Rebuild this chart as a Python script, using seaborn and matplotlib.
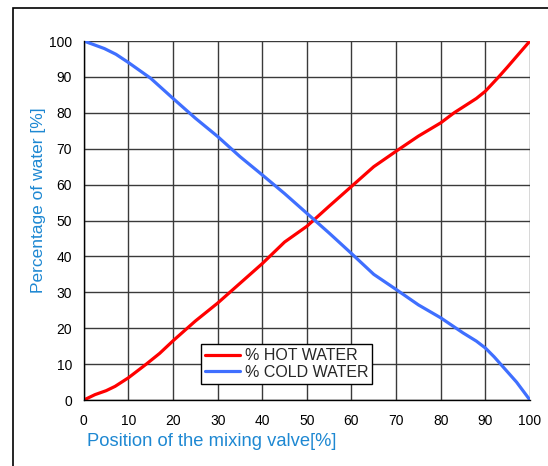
import matplotlib
matplotlib.use("Agg")
import matplotlib.pyplot as plt
import seaborn as sns
import pandas as pd
from matplotlib.patches import Rectangle

# valve position [%] and water share [%]
hot_pos = [0, 2.5, 5, 7, 10, 14, 17, 20, 25, 30, 35, 40, 45, 50, 55, 60,
           65, 70, 75, 80, 83, 88, 90, 93, 95, 100]
hot_pct = [0, 1.5, 2.6, 3.8, 6.2, 10, 13, 16.5, 22, 27, 32.5, 38, 44, 48.4,
           54, 59.5, 65, 69.3, 73.5, 77.2, 80, 84, 86, 90, 92.8, 100]

cold_pos = [0, 4.6, 7.2, 10, 15, 20, 25, 30, 35, 40, 45, 50, 55, 60, 65,
            70, 75, 80, 85, 88, 90, 92, 95, 97, 100]
cold_pct = [100, 97.9, 96.3, 94, 89.6, 84, 78.5, 73.4, 67.8, 62.7, 57.5, 52,
            46.5, 40.8, 35, 30.8, 26.5, 22.9, 18.7, 16.4, 14.5, 12, 7.8, 5, 0]

ticks = list(range(0, 101, 10))
label_blue = "#1E88D2"

df = pd.concat([
    pd.DataFrame({"pos": hot_pos, "pct": hot_pct, "series": "% HOT WATER"}),
    pd.DataFrame({"pos": cold_pos, "pct": cold_pct, "series": "% COLD WATER"}),
])

sns.set_style("white")
plt.rcParams["font.family"] = ["Liberation Sans", "DejaVu Sans"]

fig = plt.figure(figsize=(5.48, 4.66), dpi=100)
ax = fig.add_axes([0.153, 0.1416, 0.814, 0.7704])

sns.lineplot(data=df, x="pos", y="pct", hue="series", sort=False,
             palette={"% HOT WATER": "#FF0000", "% COLD WATER": "#3F6FFF"},
             linewidth=2.3, ax=ax)

ax.set_xlim(0, 100)
ax.set_ylim(0, 100)
ax.set_xticks(ticks)
ax.set_yticks(ticks)
ax.grid(True, color="#3a3a3a", linewidth=1.0)
for side in ["top", "right"]:
    ax.spines[side].set_visible(False)
for side in ["left", "bottom"]:
    ax.spines[side].set_color("black")
    ax.spines[side].set_linewidth(1.0)
ax.tick_params(axis="both", direction="out", length=3, width=1,
               colors="black", labelsize=10)
ax.tick_params(axis="x", pad=7)
ax.tick_params(axis="y", pad=5.5)

ax.set_xlabel("Position of the mixing valve[%]", color=label_blue,
              fontsize=13.2)
ax.set_ylabel("Percentage of water [%]", color=label_blue, fontsize=12.5)
ax.xaxis.set_label_coords(0.286, -0.092)
ax.yaxis.set_label_coords(-0.085, 0.557)

leg = ax.legend(title=None, loc="lower left", bbox_to_anchor=(0.262, 0.045),
                fontsize=11.5, frameon=True, fancybox=False, shadow=False,
                handlelength=2.2, handletextpad=0.3, borderpad=0.25,
                labelspacing=0.1, borderaxespad=0)
leg.get_frame().set_edgecolor("black")
leg.get_frame().set_linewidth(1.0)
leg.get_frame().set_alpha(1)

# outer chart-area border, running off the image on right and bottom
fig.patches.append(Rectangle((13 / 548, -0.1), 1.1, 1 - 8 / 466 + 0.1,
                             transform=fig.transFigure, fill=False,
                             edgecolor="black", linewidth=1.2))

fig.savefig("out.png", dpi=100)
plt.close(fig)
